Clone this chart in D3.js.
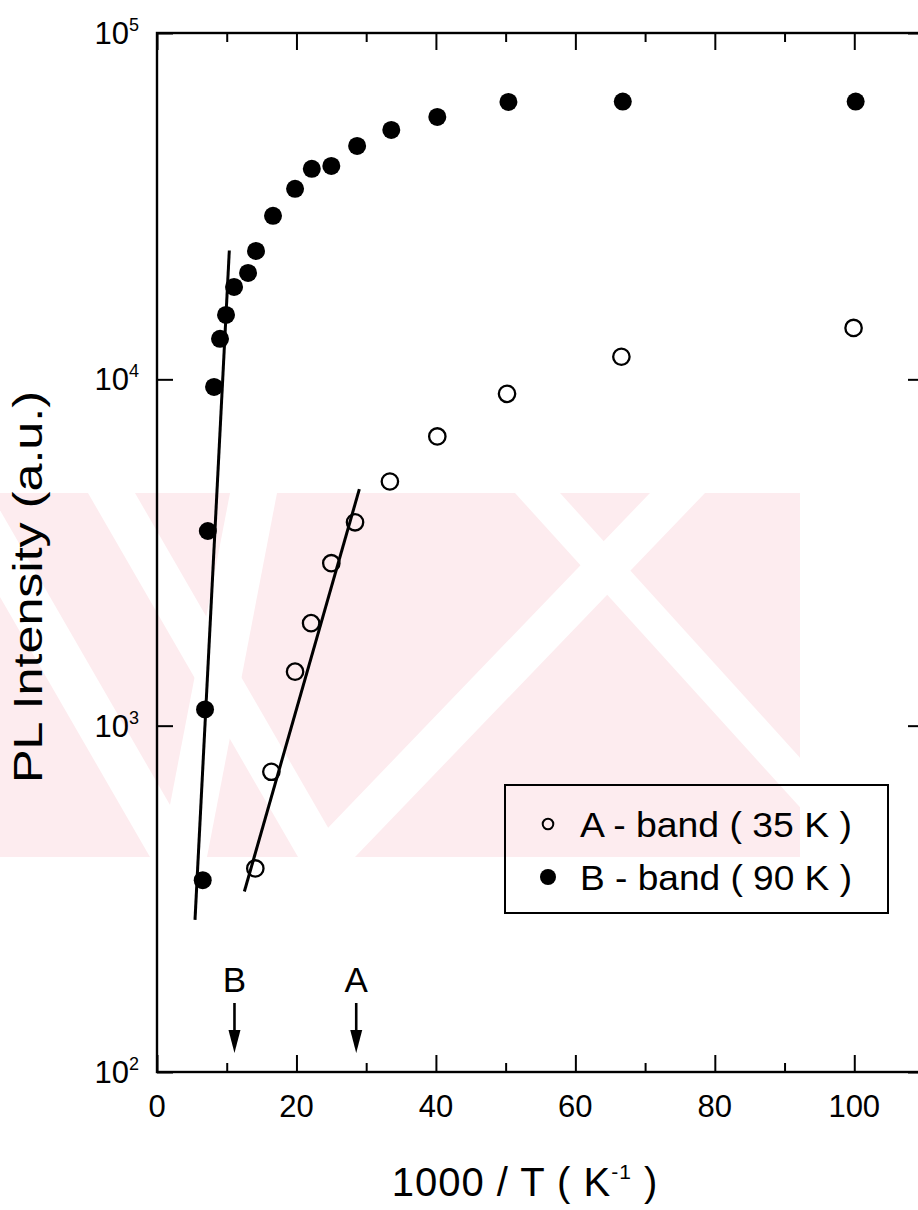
<!DOCTYPE html>
<html>
<head>
<meta charset="utf-8">
<script src="https://cdn.jsdelivr.net/npm/d3@7"></script>
<style>
  body { margin: 0; background: #fff; }
  svg { display: block; }
  text { font-family: "Liberation Sans", Arial, Helvetica, sans-serif; fill: #000; }
</style>
</head>
<body>
<script>
// A-band (open circles): 1000/T (K^-1) and PL intensity (a.u.)
const bandA_x = [14.1, 16.4, 19.8, 22.1, 25.0, 28.4, 33.4, 40.2, 50.2, 66.6, 99.9];
const bandA_y = [387, 736, 1432, 1977, 2945, 3866, 5070, 6840, 9080, 11620, 14070];

// B-band (filled circles)
const bandB_x = [6.56, 6.89, 7.29, 8.18, 9.04, 9.9, 11.05, 13.06, 14.2, 16.64, 19.8, 22.2, 25.0, 28.7, 33.6, 40.2, 50.4, 66.8, 100.2];
const bandB_y = [358, 1114, 3648, 9510, 13090, 15350, 18490, 20280, 23480, 29650, 35480, 40530, 41330, 47200, 52480, 57240, 63240, 63380, 63380];

// Activation-energy fit lines (end points)
const fitA_x = [12.53, 29.02];
const fitA_y = [332, 4820];
const fitB_x = [5.45, 10.37];
const fitB_y = [275, 23550];

// Quenching temperatures marked by arrows
const arrowLabels = ["B", "A"];
const arrowTemps = [90, 35];

// Axes
const xMajorTicks = [0, 20, 40, 60, 80, 100];
const xMinorTicks = [10, 30, 50, 70, 90];
const yTicks = [1e2, 1e3, 1e4, 1e5];
const yTickExponents = ["2", "3", "4", "5"];

const legendLabels = ["A - band ( 35 K )", "B - band ( 90 K )"];

const W = 918, H = 1210;
const plotL = 157, plotT = 33, plotR = 924, plotB = 1072;

const svg = d3.select("body").append("svg")
  .attr("width", W).attr("height", H)
  .attr("viewBox", `0 0 ${W} ${H}`);

// faint diagonal-stripe watermark behind the chart
const wmTop = 493, wmBot = 857, wmRight = 800;
svg.append("defs").append("clipPath").attr("id", "wmclip")
  .append("rect").attr("x", 0).attr("y", wmTop).attr("width", wmRight).attr("height", wmBot - wmTop);
const wmg = svg.append("g").attr("clip-path", "url(#wmclip)");
wmg.append("rect").attr("x", 0).attr("y", wmTop).attr("width", wmRight).attr("height", wmBot - wmTop)
  .attr("fill", "#fdecef");
// white gaps: [x-left at top, x-right at top, horizontal shift from top to bottom]
const wmGaps = [[88, 135, 210], [230, 277, -70], [650, 705, -350], [515, 560, 330], [-60, -10, 210]];
wmGaps.forEach(([a, b, s]) => {
  wmg.append("polygon")
    .attr("points", `${a},${wmTop} ${b},${wmTop} ${b + s},${wmBot} ${a + s},${wmBot}`)
    .attr("fill", "#fff");
});

const x = d3.scaleLinear().domain([0, 110]).range([plotL, plotR]);
const y = d3.scaleLog().domain([1e2, 1e5]).range([plotB, plotT]);

// ticks (inward), all four sides
const axisG = svg.append("g");
function styleAxis(g) {
  g.select(".domain").remove();
  g.selectAll(".tick line").attr("stroke", "#000").attr("stroke-width", 2);
  g.selectAll(".tick text").remove();
}
axisG.append("g").attr("transform", `translate(0,${plotB})`)
  .call(d3.axisBottom(x).tickValues(xMajorTicks).tickSize(-17)).call(styleAxis);
axisG.append("g").attr("transform", `translate(0,${plotB})`)
  .call(d3.axisBottom(x).tickValues(xMinorTicks).tickSize(-9)).call(styleAxis);
axisG.append("g").attr("transform", `translate(0,${plotT})`)
  .call(d3.axisTop(x).tickValues(xMajorTicks).tickSize(-17)).call(styleAxis);
axisG.append("g").attr("transform", `translate(0,${plotT})`)
  .call(d3.axisTop(x).tickValues(xMinorTicks).tickSize(-9)).call(styleAxis);
axisG.append("g").attr("transform", `translate(${plotL},0)`)
  .call(d3.axisLeft(y).tickValues(yTicks).tickSize(-16)).call(styleAxis);
axisG.append("g").attr("transform", `translate(${plotR},0)`)
  .call(d3.axisRight(y).tickValues(yTicks).tickSize(-16)).call(styleAxis);

// frame
svg.append("rect")
  .attr("x", plotL).attr("y", plotT)
  .attr("width", plotR - plotL).attr("height", plotB - plotT)
  .attr("fill", "none").attr("stroke", "#000").attr("stroke-width", 2.4);

// x tick labels
svg.append("g").selectAll("text").data(xMajorTicks).join("text")
  .attr("x", d => x(d)).attr("y", plotB + 45)
  .attr("text-anchor", "middle").attr("font-size", 31)
  .text(d => d);

// y tick labels 10^n
const yl = svg.append("g").selectAll("text").data(yTicks).join("text")
  .attr("x", 139).attr("y", d => y(d) + 11)
  .attr("text-anchor", "end").attr("font-size", 31);
yl.append("tspan").text("10");
yl.append("tspan").attr("dy", -13).attr("font-size", 18).text((d, i) => yTickExponents[i]);

// axis titles
svg.append("text")
  .attr("transform", "translate(42,587) rotate(-90)")
  .attr("text-anchor", "middle").attr("font-size", 40)
  .attr("textLength", 392).attr("lengthAdjust", "spacingAndGlyphs")
  .text("PL Intensity (a.u.)");

const xt = svg.append("text")
  .attr("x", 525).attr("y", 1196)
  .attr("text-anchor", "middle").attr("font-size", 40)
  .attr("letter-spacing", 1);
xt.append("tspan").text("1000 / T ( K");
xt.append("tspan").attr("dy", -17).attr("font-size", 21).text("-1");
xt.append("tspan").attr("dy", 17).text(" )");

// fit lines
const line = d3.line().x(d => x(d[0])).y(d => y(d[1]));
svg.append("path").datum(d3.zip(fitB_x, fitB_y))
  .attr("d", line).attr("fill", "none").attr("stroke", "#000").attr("stroke-width", 3);
svg.append("path").datum(d3.zip(fitA_x, fitA_y))
  .attr("d", line).attr("fill", "none").attr("stroke", "#000").attr("stroke-width", 3);

// data points
svg.append("g").selectAll("circle").data(d3.zip(bandA_x, bandA_y)).join("circle")
  .attr("cx", d => x(d[0])).attr("cy", d => y(d[1])).attr("r", 8.2)
  .attr("fill", "none").attr("stroke", "#000").attr("stroke-width", 2.3);
svg.append("g").selectAll("circle").data(d3.zip(bandB_x, bandB_y)).join("circle")
  .attr("cx", d => x(d[0])).attr("cy", d => y(d[1])).attr("r", 9)
  .attr("fill", "#000");

// arrows marking the quenching temperatures
const arrows = svg.append("g").selectAll("g").data(d3.zip(arrowLabels, arrowTemps)).join("g")
  .attr("transform", d => `translate(${x(1000 / d[1])},0)`);
arrows.append("text").attr("x", 0).attr("y", plotB - 80)
  .attr("text-anchor", "middle").attr("font-size", 35).text(d => d[0]);
arrows.append("line").attr("x1", 0).attr("x2", 0)
  .attr("y1", plotB - 69).attr("y2", plotB - 36)
  .attr("stroke", "#000").attr("stroke-width", 2.6);
arrows.append("path").attr("d", `M-6,${plotB - 42} L6,${plotB - 42} L0,${plotB - 19} Z`)
  .attr("fill", "#000");

// legend
const lg = svg.append("g");
lg.append("rect").attr("x", 505).attr("y", 785).attr("width", 383).attr("height", 128)
  .attr("fill", "none").attr("stroke", "#000").attr("stroke-width", 2);
lg.append("circle").attr("cx", 548).attr("cy", 824).attr("r", 5.3)
  .attr("fill", "none").attr("stroke", "#000").attr("stroke-width", 2);
lg.append("circle").attr("cx", 548).attr("cy", 877).attr("r", 8).attr("fill", "#000");
lg.selectAll("text").data(legendLabels).join("text")
  .attr("x", 580).attr("y", (d, i) => 837 + i * 53)
  .attr("font-size", 35).attr("textLength", 272).attr("lengthAdjust", "spacingAndGlyphs")
  .text(d => d);
</script>
</body>
</html>
